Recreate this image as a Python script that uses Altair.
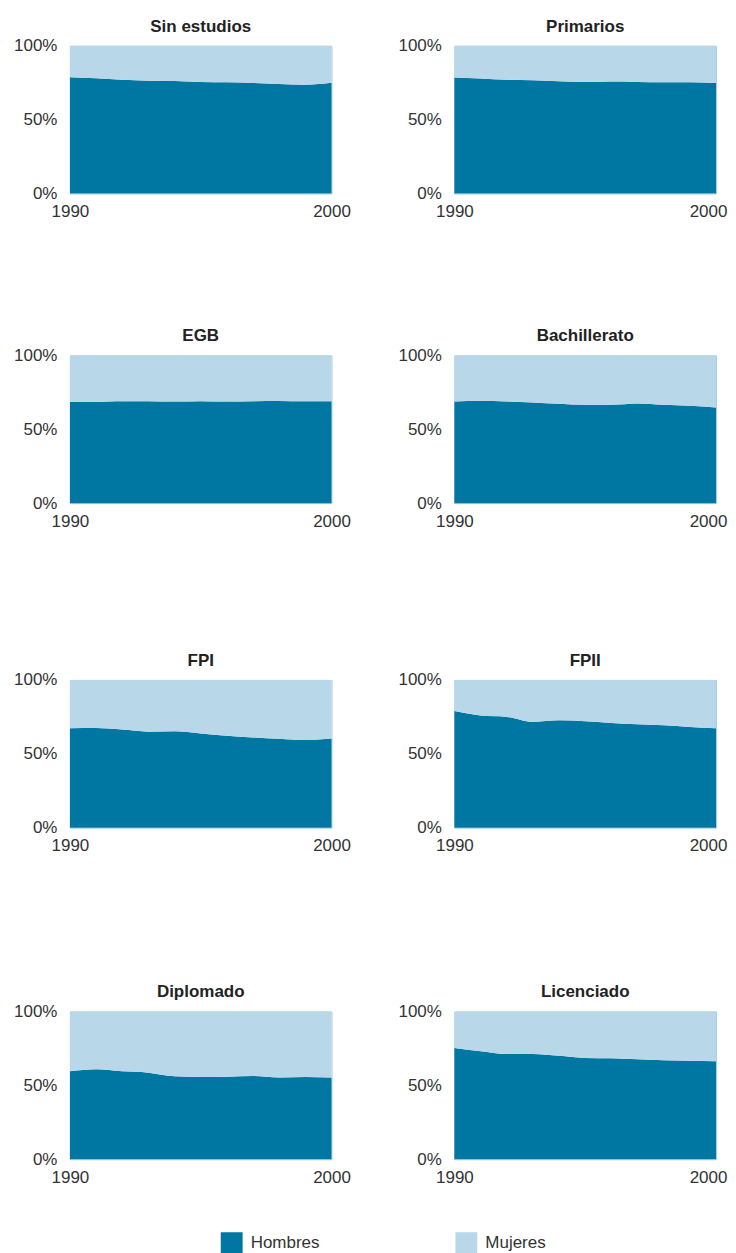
import altair as alt
import pandas as pd

years = list(range(1990, 2001))
categories = ["Sin estudios", "Primarios", "EGB", "Bachillerato", "FPI", "FPII", "Diplomado", "Licenciado"]

# Share of men (%) per year; women = 100 - men
hombres = {
    "Sin estudios": [78.7, 78.0, 77.1, 76.4, 76.2, 75.5, 75.3, 74.9, 74.2, 73.7, 75.0],
    "Primarios":    [78.6, 77.9, 77.0, 76.7, 76.1, 75.6, 75.8, 75.6, 75.4, 75.4, 74.9],
    "EGB":          [68.5, 68.5, 69.0, 69.0, 68.8, 69.0, 68.8, 69.0, 69.2, 69.0, 69.0],
    "Bachillerato": [68.8, 69.3, 68.8, 68.2, 67.3, 66.6, 66.6, 67.5, 66.6, 65.9, 64.8],
    "FPI":          [67.3, 67.5, 66.4, 65.0, 65.2, 63.8, 62.2, 61.1, 60.2, 59.3, 60.4],
    "FPII":         [78.9, 75.9, 75.0, 71.6, 72.7, 72.0, 70.9, 70.0, 69.3, 68.2, 67.3],
    "Diplomado":    [59.5, 60.9, 59.5, 58.6, 56.1, 55.7, 55.9, 56.3, 55.4, 55.7, 55.4],
    "Licenciado":   [75.3, 73.1, 71.3, 71.3, 70.1, 68.6, 68.3, 67.6, 67.0, 66.7, 66.3],
}
sexes = ["Hombres", "Mujeres"]
colors = ["#0077a2", "#b8d7e8"]

rows = []
for c in categories:
    for y, h in zip(years, hombres[c]):
        rows.append({"nivel": c, "year": y, "sexo": "Hombres", "valor": h})
        rows.append({"nivel": c, "year": y, "sexo": "Mujeres", "valor": 100 - h})
df = pd.DataFrame(rows)

FONT = "Liberation Sans"

color_enc = alt.Color(
    "sexo:N",
    scale=alt.Scale(domain=sexes, range=colors),
    legend=alt.Legend(
        title=None, orient="none", direction="horizontal",
        legendX=151, legendY=1188,
        symbolType="square", symbolSize=480, symbolStrokeWidth=0,
        labelFontSize=17, labelFont=FONT, labelColor="#333333",
        columnPadding=136, symbolOffset=0, labelOffset=8,
    ),
)


def panel(name, right=False):
    label_offset = alt.condition("datum.value == 2000", alt.value(-8), alt.value(0)) if right else 0
    return (
        alt.Chart(df)
        .transform_filter(alt.datum.nivel == name)
        .mark_area(interpolate="monotone")
        .encode(
            x=alt.X("year:Q", scale=alt.Scale(domain=[1990, 2000], nice=False, zero=False),
                    axis=alt.Axis(title=None, values=[1990, 2000], format="d", ticks=False,
                                  domain=False, grid=False, labelPadding=10,
                                  labelOffset=label_offset,
                                  labelFontSize=17, labelFont=FONT, labelColor="#333333",
                                  labelFlush=False)),
            y=alt.Y("valor:Q", stack="normalize",
                    axis=alt.Axis(title=None, values=[0, 0.5, 1], format=".0%", ticks=False,
                                  domain=False, grid=False, labelPadding=13,
                                  labelFontSize=17, labelFont=FONT, labelColor="#333333")),
            color=color_enc,
            order=alt.Order("sexo:N"),
        )
        .properties(
            width=262, height=148,
            title=alt.TitleParams(name, fontSize=17, fontWeight="bold", font=FONT,
                                  color="#222222", anchor="middle", offset=1),
        )
    )


def row(a, b):
    return alt.hconcat(panel(a), panel(b, right=True), spacing=46)


r1 = row("Sin estudios", "Primarios")
r2 = row("EGB", "Bachillerato")
r3 = row("FPI", "FPII")
r4 = row("Diplomado", "Licenciado")

chart = alt.vconcat(
    r1,
    alt.vconcat(r2, alt.vconcat(r3, r4, spacing=128), spacing=121),
    spacing=106,
).configure_view(stroke="#a9d1e3", strokeWidth=1).configure_concat(spacing=46).properties(
    padding={"left": 5, "right": 0, "top": 8, "bottom": 0}
)

chart.save("out.html", embed_options={"renderer": "svg", "actions": False})
